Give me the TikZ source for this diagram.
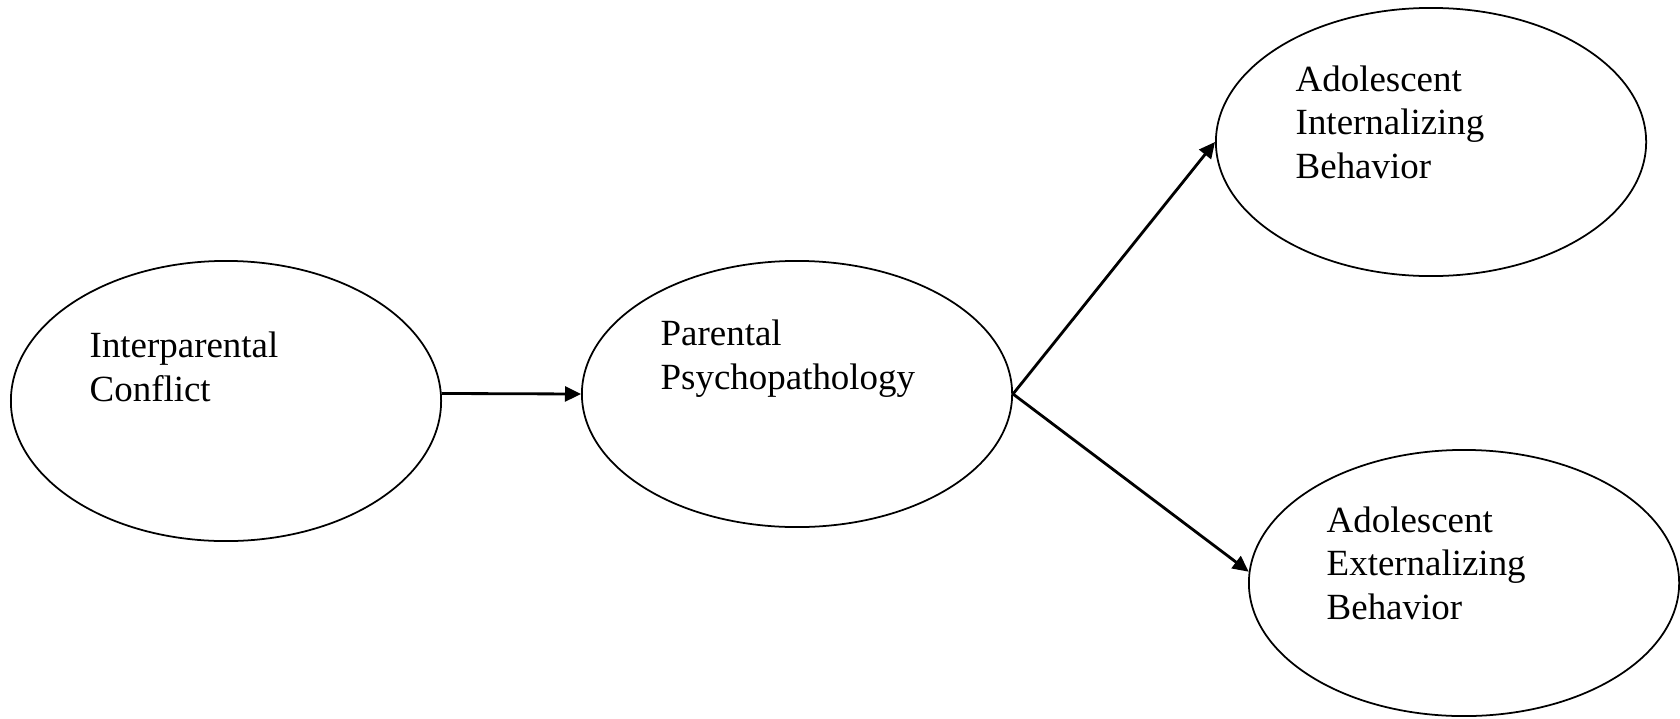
\documentclass[tikz,border=0pt]{standalone}
\usepackage{fontspec}
\setmainfont{Liberation Serif}
\usetikzlibrary{shapes.geometric,arrows.meta,positioning}
\tikzset{
    latent/.style = {ellipse,
                    fill=white,
                    draw=black,
                    line width=0.5pt,
                    inner sep=0pt},
    lbl/.style =    {align=left,
                    anchor=base west,
                    text=black,
                    inner sep=0pt,
                    font=\fontsize{10.5}{12.3}\selectfont},
    effect/.style = {line width=0.8pt,
                    -{Triangle[length=0.16cm,width=0.15cm]}},
    -,
    shorten >= 0pt,
    shorten <= 0pt}

\begin{document}
\begin{tikzpicture}[x=0.01cm,y=-0.01cm]
                \useasboundingbox (0,0) rectangle (1680,718);
                \node[latent, minimum width=4.3cm, minimum height=2.8cm]    (IC)  at (226,401)  {};
                \node[latent, minimum width=4.3cm, minimum height=2.66cm]   (PP)  at (797,394)  {};
                \node[latent, minimum width=4.3cm, minimum height=2.68cm]   (AIB) at (1431,142) {};
                \node[latent, minimum width=4.3cm, minimum height=2.66cm]   (AEB) at (1464,583) {};
                % last line of each text sits on the given point
                \node[lbl] (ICt)  at (89,401)   {Interparental\\Conflict};
                \node[lbl] (PPt)  at (660,389)  {Parental\\Psychopathology};
                \node[lbl] (AIBt) at (1295,178) {Adolescent\\Internalizing\\Behavior};
                \node[lbl] (AEBt) at (1326,619) {Adolescent\\Externalizing\\Behavior};
                \path [effect]  (IC.2)  edge []     (PP.west)
                                (PP.east) edge []   (AIB.west)
                                (PP.east) edge []   (AEB.177);
        \end{tikzpicture}
\end{document}
